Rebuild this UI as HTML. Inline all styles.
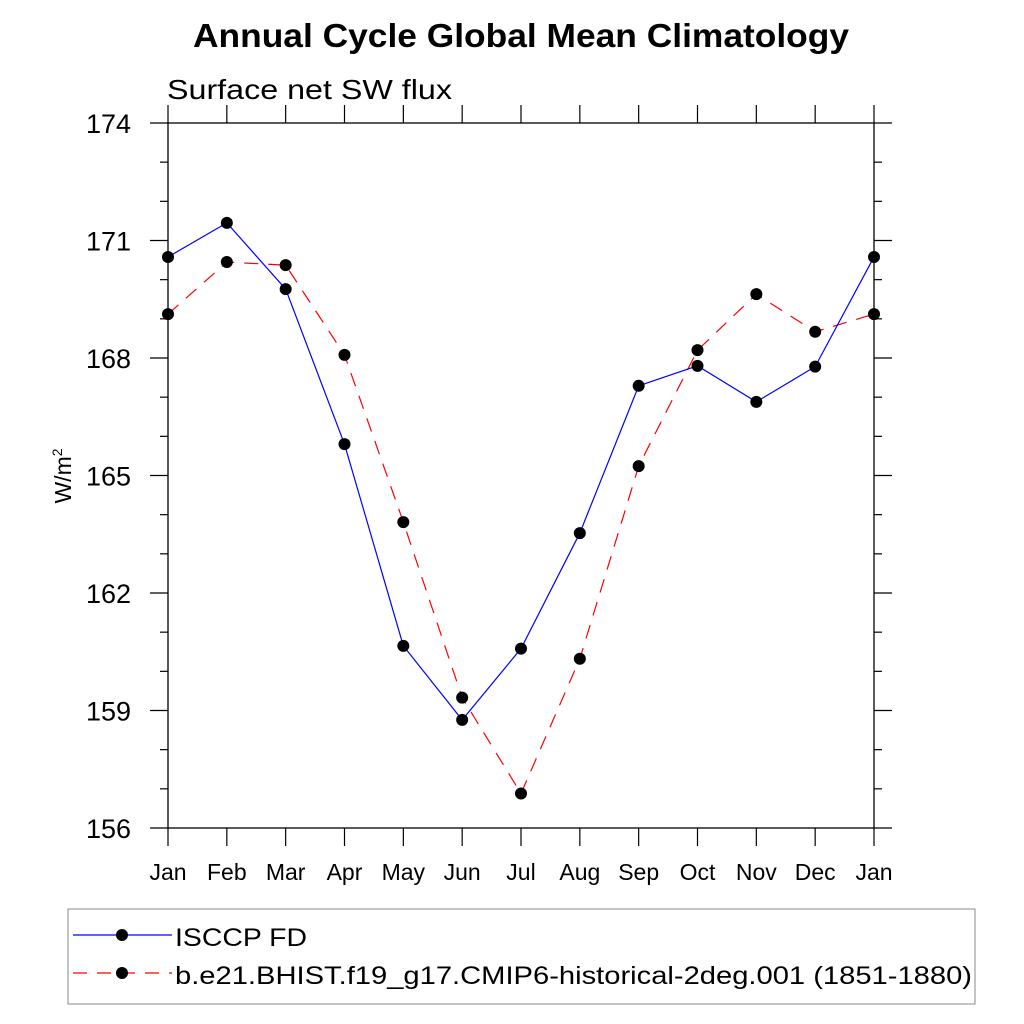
<!DOCTYPE html>
<html><head><meta charset="utf-8"><style>body{margin:0;background:#fff}svg{display:block;font-family:"Liberation Sans",sans-serif}</style></head>
<body>
<svg id="c" width="1024" height="1024" viewBox="0 0 1024 1024">
<text x="193" y="47" font-size="33" font-weight="bold" textLength="656" lengthAdjust="spacingAndGlyphs">Annual Cycle Global Mean Climatology</text>
<text x="167" y="99" font-size="28" textLength="285" lengthAdjust="spacingAndGlyphs">Surface net SW flux</text>
<text transform="translate(71,476) rotate(-90)" text-anchor="middle" font-size="23">W/m<tspan dy="-9" font-size="14">2</tspan></text>
<g id="axes"></g>
<g id="series"></g>
<rect x="68" y="909" width="907" height="95" fill="none" stroke="#888" stroke-width="1"/>
<line x1="73" y1="935" x2="172" y2="935" stroke="#00f" stroke-width="1.2"/>
<circle cx="122" cy="935" r="6" fill="#000"/>
<text x="175" y="946" font-size="25" textLength="132" lengthAdjust="spacingAndGlyphs">ISCCP FD</text>
<line x1="73" y1="973" x2="172" y2="973" stroke="#f00" stroke-width="1.2" stroke-dasharray="14,10"/>
<circle cx="122" cy="973" r="6" fill="#000"/>
<text x="175" y="984" font-size="25" textLength="797" lengthAdjust="spacingAndGlyphs">b.e21.BHIST.f19_g17.CMIP6-historical-2deg.001 (1851-1880)</text>
</svg>
<script>
const months=["Jan","Feb","Mar","Apr","May","Jun","Jul","Aug","Sep","Oct","Nov","Dec","Jan"];
const isccp=[170.58,171.45,169.76,165.8,160.65,158.76,160.58,163.53,167.29,167.8,166.88,167.78,170.58];
const model=[169.12,170.45,170.37,168.08,163.81,159.33,156.88,160.32,165.24,168.2,169.63,168.67,169.12];
const yTicks=[156,159,162,165,168,171,174];
const NS="http://www.w3.org/2000/svg";
const X0=168,X1=874,Y0=828,Y1=123,YMIN=156,YMAX=174;
const xs=i=>X0+i*(X1-X0)/(months.length-1);
const ys=v=>Y0-(v-YMIN)*(Y0-Y1)/(YMAX-YMIN);
const ax=document.getElementById('axes'),se=document.getElementById('series');
function mk(t,a,p){const e=document.createElementNS(NS,t);for(const k in a)e.setAttribute(k,a[k]);p.appendChild(e);return e;}
let e;
e=mk('rect',{x:X0,y:Y1,width:X1-X0,height:Y0-Y1,fill:'none',stroke:'#000','stroke-width':1.3},ax);


for(let v=YMIN;v<=YMAX;v++){
 const y=ys(v),maj=yTicks.includes(v),L=maj?18:8;
 e=mk('line',{x1:X0-L,y1:y,x2:X0,y2:y,stroke:'#000','stroke-width':1.2},ax);
 
 
 e=mk('line',{x1:X1,y1:y,x2:X1+L,y2:y,stroke:'#000','stroke-width':1.2},ax);
 
 
 if(maj){e=mk('text',{x:131,y:y+10,'text-anchor':'end','font-size':27},ax);e.textContent=v;
 
 }
}
months.forEach((m,i)=>{
 const x=xs(i);
 e=mk('line',{x1:x,y1:Y0,x2:x,y2:Y0+18,stroke:'#000','stroke-width':1.2},ax);
 
 
 e=mk('line',{x1:x,y1:Y1-18,x2:x,y2:Y1,stroke:'#000','stroke-width':1.2},ax);
 
 
 e=mk('text',{x:x,y:880,'text-anchor':'middle','font-size':23},ax);e.textContent=m;
 
 
});
function series(d,col,dash,name){
 e=mk('polyline',{points:d.map((v,i)=>xs(i)+','+ys(v)).join(' '),fill:'none',stroke:col,'stroke-width':1.2,'stroke-dasharray':dash},se);
 
 
 d.forEach((v,i)=>{e=mk('circle',{cx:xs(i),cy:ys(v),r:6,fill:'#000'},se);
 
 });
}
series(model,'#f00','14,10','model');
series(isccp,'#00f','none','isccp');
</script>
</body></html>
